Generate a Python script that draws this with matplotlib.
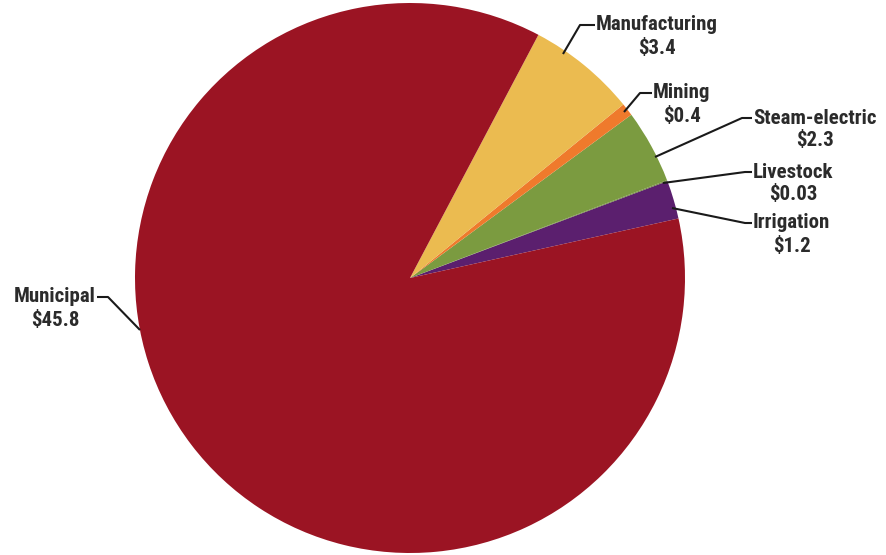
import numpy as np
import matplotlib.pyplot as plt

# water use value by sector (billion $)
sectors = ['Irrigation', 'Livestock', 'Steam-electric', 'Mining', 'Manufacturing', 'Municipal']
values = [1.2, 0.03, 2.3, 0.4, 3.4, 45.8]
value_labels = ['$1.2', '$0.03', '$2.3', '$0.4', '$3.4', '$45.8']
colors = ['#5b1f6e', '#6b7f3a', '#7b9b40', '#ef7a2c', '#ebbb50', '#9b1423']

W, H = 886, 555
fig = plt.figure(figsize=(W / 100, H / 100), dpi=100)
ax = fig.add_axes([0, 0, 1, 1])

cx, cy, r = 410, H - 278, 275
wedges, _ = ax.pie(values, colors=colors, startangle=12.5, counterclock=True,
                   center=(cx, cy), radius=r, frame=True,
                   wedgeprops=dict(linewidth=0))
ax.set_xlim(0, W)
ax.set_ylim(0, H)
ax.set_aspect('equal')
ax.axis('off')

font = dict(family=['Roboto Condensed', 'DejaVu Sans'], fontweight='bold',
            fontsize=15, color='#2b2b2b')

# leader line: pie edge point, elbow, end at text -- image pixel coords
layout = {
    'Manufacturing': ((563, 54), (580, 25), (595, 25), 'left'),
    'Mining': ((624, 112), (640, 93), (652, 93), 'left'),
    'Steam-electric': ((655, 157), (742, 118), (752, 118), 'left'),
    'Livestock': ((663, 183), (745, 172), (752, 172), 'left'),
    'Irrigation': ((672, 208), (745, 223), (752, 223), 'left'),
    'Municipal': ((140, 330), (108, 297), (97, 297), 'right'),
}

fig.canvas.draw()
for name, val in zip(sectors, value_labels):
    (x0, y0), (x1, y1), (x2, y2), side = layout[name]
    ax.plot([x0, x1, x2], [H - y0, H - y1, H - y2], color='#1a1a1a', lw=1.5,
            solid_capstyle='butt')
    tx = x2 + 1 if side == 'left' else x2 - 1
    t = ax.text(tx, H - y2, name, ha=side, va='center', **font)
    bb = t.get_window_extent(renderer=fig.canvas.get_renderer()).transformed(ax.transData.inverted())
    ax.text((bb.x0 + bb.x1) / 2, H - y2 - 23, val, ha='center', va='center', **font)

fig.savefig('out.png', dpi=100)
